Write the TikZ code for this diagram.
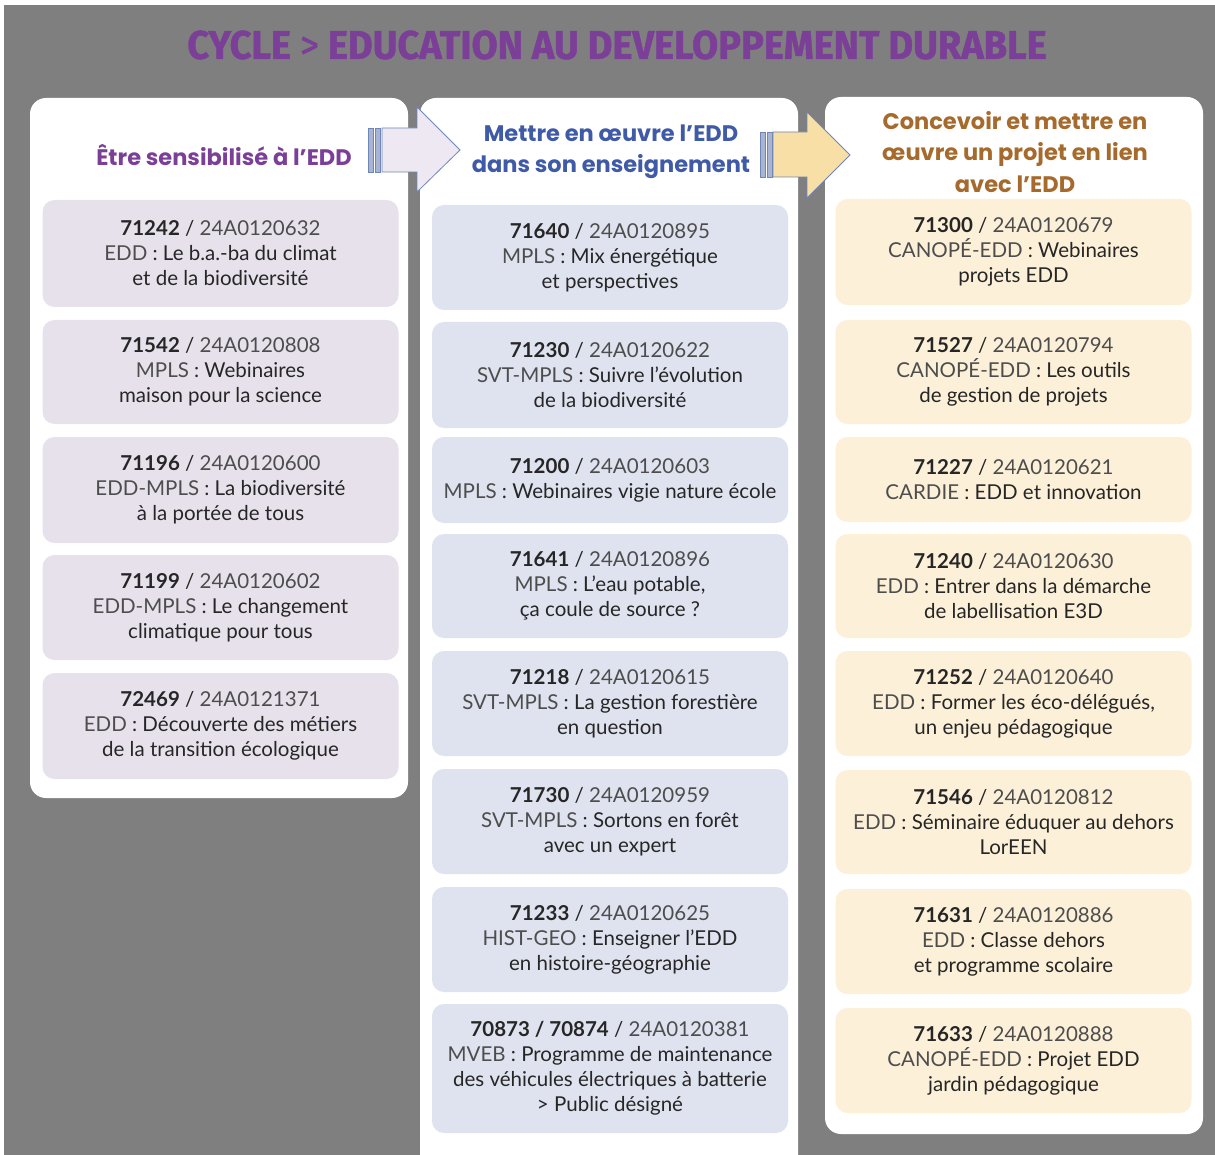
\documentclass[tikz,border=0pt]{standalone}
\usepackage{fontspec}
\setmainfont{Lato}
\newfontfamily\headfont{Poppins}
\newfontfamily\titlefont[FakeStretch=0.95,FakeBold=1.2]{Fira Sans}
\definecolor{bggray}{HTML}{7F7F7F}
\definecolor{purp}{HTML}{7B3F98}
\definecolor{bluehd}{HTML}{3F5AA6}
\definecolor{brownhd}{HTML}{A56A2C}
\definecolor{lav}{HTML}{E7E1EC}
\definecolor{bluebox}{HTML}{DFE3EF}
\definecolor{cream}{HTML}{FCF0D9}
\definecolor{ink}{HTML}{262626}
\definecolor{soft}{HTML}{4D4D4D}
\definecolor{arrline}{HTML}{6F87B8}
\definecolor{arrstripe}{HTML}{A8B4D2}
\definecolor{arrlav}{HTML}{EDE8F1}
\definecolor{arrgold}{HTML}{F8DFA6}
\newcommand{\idline}[2]{\textbf{#1} / {\color{soft}#2}}
\newcommand{\pre}[1]{{\color{soft}#1} : }
\tikzset{
  panel/.style={fill=white, rounded corners=16pt},
  item/.style={rounded corners=12pt, minimum width=356pt, inner sep=0pt, align=center,
    text=ink, font=\fontsize{20.5}{25}\selectfont},
  lavbox/.style={item, fill=lav},
  bluebx/.style={item, fill=bluebox},
  creambox/.style={item, fill=cream},
  header/.style={align=center, font=\headfont\bfseries\fontsize{22.5}{31.5}\selectfont},
  stripe/.style={fill=arrstripe, draw=arrline, line width=0.6pt},
  bigarrow/.style={draw=arrline, line width=0.8pt}
}
\begin{document}
\begin{tikzpicture}[x=1pt, y=-1pt]
\useasboundingbox (0,0) rectangle (1215,1155);
\fill[bggray] (4,5) rectangle (1215,1155);
\node[font=\titlefont\bfseries\fontsize{40}{40}\selectfont, text=purp] (title) at (617,45) {CYCLE {\mdseries >} EDUCATION AU DEVELOPPEMENT DURABLE};
% columns
\fill[panel] (30,98) rectangle (408,798);
\fill[panel] (420,98) rectangle (798,1172);
\fill[panel] (825,97) rectangle (1203,1134);
% arrows
\draw[stripe] (368,128) rectangle (373,172);
\draw[stripe] (375,128) rectangle (380,172);
\draw[bigarrow, fill=arrlav] (382,128) -- (417,128) -- (417,107) -- (460,150) -- (417,192) -- (417,172) -- (382,172) -- cycle;
\draw[stripe] (760,132) rectangle (765,177);
\draw[stripe] (767,132) rectangle (772,177);
\draw[bigarrow, fill=arrgold] (773,132) -- (807,132) -- (807,112) -- (850,155) -- (807,198) -- (807,177) -- (773,177) -- cycle;
% headers
\node[header, text=purp] (hl) at (224,155) {Être sensibilisé à l’EDD};
\node[header, text=bluehd] (hm) at (611,152) {Mettre en œuvre l’EDD\\dans son enseignement};
\node[header, text=brownhd] (hr) at (1015,152) {Concevoir et mettre en\\œuvre un projet en lien\\avec l’EDD};
% left column
\node[lavbox, minimum height=107pt] (l1) at (220.5,253.5) {\idline{71242}{24A0120632}\\\pre{EDD}Le b.a.-ba du climat\\et de la biodiversité};
\node[lavbox, minimum height=104pt] (l2) at (220.5,372) {\idline{71542}{24A0120808}\\\pre{MPLS}Webinaires\\maison pour la science};
\node[lavbox, minimum height=106pt] (l3) at (220.5,490) {\idline{71196}{24A0120600}\\\pre{EDD-MPLS}La biodiversité\\à la portée de tous};
\node[lavbox, minimum height=105pt] (l4) at (220.5,607.5) {\idline{71199}{24A0120602}\\\pre{EDD-MPLS}Le changement\\climatique pour tous};
\node[lavbox, minimum height=106pt] (l5) at (220.5,726) {\idline{72469}{24A0121371}\\\pre{EDD}Découverte des métiers\\de la transition écologique};
% middle column
\node[bluebx, minimum height=105pt] (m1) at (610,257.5) {\idline{71640}{24A0120895}\\\pre{MPLS}Mix énergétique\\et perspectives};
\node[bluebx, minimum height=106pt] (m2) at (610,375) {\idline{71230}{24A0120622}\\\pre{SVT-MPLS}Suivre l'évolution\\de la biodiversité};
\node[bluebx, minimum height=86pt] (m3) at (610,480) {\idline{71200}{24A0120603}\\\pre{MPLS}Webinaires vigie nature école};
\node[bluebx, minimum height=104pt] (m4) at (610,586) {\idline{71641}{24A0120896}\\\pre{MPLS}L'eau potable,\\ça coule de source ?};
\node[bluebx, minimum height=105pt] (m5) at (610,703.5) {\idline{71218}{24A0120615}\\\pre{SVT-MPLS}La gestion forestière\\en question};
\node[bluebx, minimum height=105pt] (m6) at (610,821.5) {\idline{71730}{24A0120959}\\\pre{SVT-MPLS}Sortons en forêt\\avec un expert};
\node[bluebx, minimum height=105pt] (m7) at (610,939.5) {\idline{71233}{24A0120625}\\\pre{HIST-GEO}Enseigner l’EDD\\en histoire-géographie};
\node[bluebx, minimum height=129pt] (m8) at (610,1068.5) {\idline{70873 / 70874}{24A0120381}\\\pre{MVEB}Programme de maintenance\\des véhicules électriques à batterie\\> Public désigné};
% right column
\node[creambox, minimum height=106pt] (r1) at (1013.5,252) {\idline{71300}{24A0120679}\\\pre{CANOPÉ-EDD}Webinaires\\projets EDD};
\node[creambox, minimum height=104pt] (r2) at (1013.5,372) {\idline{71527}{24A0120794}\\\pre{CANOPÉ-EDD}Les outils\\de gestion de projets};
\node[creambox, minimum height=85pt] (r3) at (1013.5,479.5) {\idline{71227}{24A0120621}\\\pre{CARDIE}EDD et innovation};
\node[creambox, minimum height=104pt] (r4) at (1013.5,586) {\idline{71240}{24A0120630}\\\pre{EDD}Entrer dans la démarche\\de labellisation E3D};
\node[creambox, minimum height=105pt] (r5) at (1013.5,703.5) {\idline{71252}{24A0120640}\\\pre{EDD}Former les éco-délégués,\\un enjeu pédagogique};
\node[creambox, minimum height=104pt] (r6) at (1013.5,822) {\idline{71546}{24A0120812}\\\pre{EDD}Séminaire éduquer au dehors\\LorEEN};
\node[creambox, minimum height=105pt] (r7) at (1013.5,941.5) {\idline{71631}{24A0120886}\\\pre{EDD}Classe dehors\\et programme scolaire};
\node[creambox, minimum height=105pt] (r8) at (1013.5,1060.5) {\idline{71633}{24A0120888}\\\pre{CANOPÉ-EDD}Projet EDD\\jardin pédagogique};
\end{tikzpicture}
\end{document}
